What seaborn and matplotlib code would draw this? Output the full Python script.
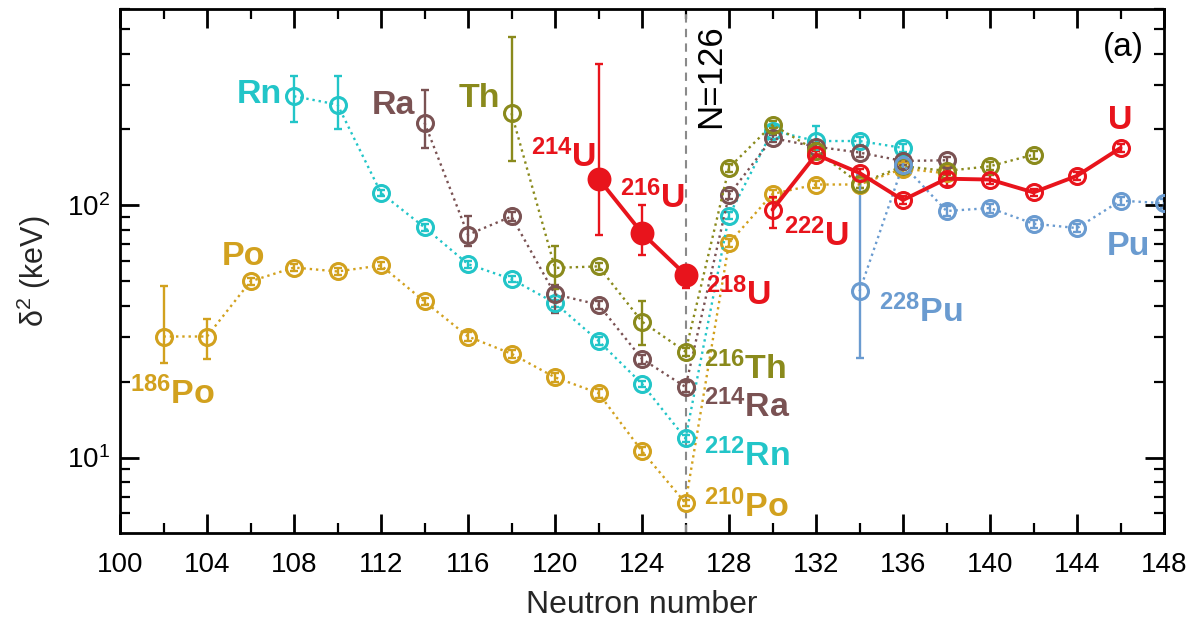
import numpy as np
import pandas as pd
import matplotlib
matplotlib.use("Agg")
import matplotlib.pyplot as plt
import matplotlib.ticker as mticker
import seaborn as sns

# ---------------- data ----------------
po_n = [102, 104, 106, 108, 110, 112, 114, 116, 118, 120, 122, 124, 126, 128, 130, 132, 134, 136, 138]
po_v = [30.2, 30.2, 50.0, 56.7, 54.7, 57.8, 41.6, 30.2, 25.8, 20.8, 18.0, 10.6, 6.6, 70.9, 111, 121, 121, 140, 134]
po_lo = [6.5, 5.6, 1.5, 1.8, 1.8, 1.8, 1.5, 1.2, 1.0, 0.8, 0.7, 0.4, 0.2, 2.5, 4, 4, 4, 5, 5]
po_hi = [17.5, 5.2, 1.5, 1.8, 1.8, 1.8, 1.5, 1.2, 1.0, 0.8, 0.7, 0.4, 0.2, 2.5, 4, 4, 4, 5, 5]

rn_n = [108, 110, 112, 114, 116, 118, 120, 122, 124, 126, 128, 130, 132, 134, 136]
rn_v = [271, 251, 112, 81.8, 58.5, 51.0, 41.0, 29.0, 19.6, 11.9, 91, 198, 180, 180, 169]
rn_lo = [56, 51, 3, 2.5, 1.8, 1.5, 1.3, 1.0, 0.6, 0.4, 3, 8, 10, 6, 6]
rn_hi = [54, 74, 3, 2.5, 1.8, 1.5, 1.3, 1.0, 0.6, 0.4, 3, 8, 26, 6, 6]

ra_n = [114, 116, 118, 120, 122, 124, 126, 128, 130, 132, 134, 136, 138]
ra_v = [213, 76.5, 90.4, 44.4, 40.4, 24.6, 19.05, 110, 185, 171, 162, 150, 151]
ra_lo = [44, 7.7, 4, 6.9, 1.5, 1.0, 0.8, 4, 6, 6, 6, 5, 5]
ra_hi = [75, 14.5, 4, 4.0, 1.5, 1.0, 0.8, 4, 6, 6, 6, 5, 5]

th_n = [118, 120, 122, 124, 126, 128, 130, 132, 134, 136, 138, 140, 142]
th_v = [232, 56.5, 57.3, 34.6, 26.3, 141, 209, 165, 122, 143, 137, 143, 159]
th_lo = [82.5, 10, 2.0, 6.6, 1.0, 5, 7, 6, 5, 5, 5, 5, 6]
th_hi = [234, 12.3, 2.0, 7.0, 1.0, 5, 7, 6, 5, 5, 5, 5, 6]

u1_n = [122, 124, 126]
u1_v = [127.6, 77.7, 53.1]
u1_lo = [51, 14, 6]
u1_hi = [236, 23, 4]

u2_n = [130, 132, 134, 136, 138, 140, 142, 144, 146]
u2_v = [96.2, 159, 134.5, 105, 127.6, 126.6, 112.6, 131, 169]
u2_lo = [15, 6, 5, 4, 8, 5, 4, 5, 6]
u2_hi = [12, 6, 5, 4, 5, 5, 4, 5, 6]

pu_n = [134, 136, 138, 140, 142, 144, 146, 148]
pu_v = [45.6, 145, 95, 97.6, 84.6, 81.3, 104.4, 102]
pu_lo = [20.8, 6, 4, 4, 3, 3, 4, 4]
pu_hi = [86, 6, 4, 4, 3, 3, 4, 4]

C_PO = "#D2A11E"
C_RN = "#22C5C8"
C_RA = "#7A5253"
C_TH = "#8A8A1C"
C_U = "#E8141C"
C_PU = "#6A9BD0"

# ---------------- style ----------------
sns.set_theme(style="ticks")
plt.rcParams["font.family"] = ["Liberation Sans", "DejaVu Sans"]
plt.rcParams["mathtext.fontset"] = "custom"
plt.rcParams["mathtext.rm"] = "Liberation Sans"
plt.rcParams["mathtext.bf"] = "Liberation Sans:bold"
plt.rcParams["mathtext.it"] = "Liberation Sans:italic"

fig = plt.figure(figsize=(11.98, 6.27), dpi=100)
ax = fig.add_axes([120 / 1198, 1 - 533 / 627, 1044 / 1198, 524 / 627])

ax.axvline(126, color="#8a8a8a", ls=(0, (4, 3)), lw=1.5, zorder=1)


def series(n, v, lo, hi, color, ls=":", lw=1.7, filled=False, ms=11.5):
    df = pd.DataFrame({"N": n, "v": v})
    ax.errorbar(n, v, yerr=[lo, hi], fmt="none", ecolor=color, elinewidth=1.7,
                capsize=3, capthick=1.7, zorder=2)
    sns.lineplot(data=df, x="N", y="v", ax=ax, color=color, linestyle=ls, lw=lw,
                 marker="o", markersize=ms, markeredgewidth=2.2,
                 markerfacecolor=(color if filled else "none"),
                 markeredgecolor=color, errorbar=None, sort=False, zorder=3)


series(po_n, po_v, po_lo, po_hi, C_PO)
series(rn_n, rn_v, rn_lo, rn_hi, C_RN)
series(ra_n, ra_v, ra_lo, ra_hi, C_RA)
series(th_n, th_v, th_lo, th_hi, C_TH)
series(pu_n, pu_v, pu_lo, pu_hi, C_PU)
series(u2_n, u2_v, u2_lo, u2_hi, C_U, ls="-", lw=2.8)
series(u1_n, u1_v, u1_lo, u1_hi, C_U, ls="-", lw=2.8, filled=True, ms=15)

ax.set_yscale("log")
ax.set_xlim(100, 148)
ax.set_ylim(5.02, 601)
ax.set_xticks(np.arange(100, 149, 4))
ax.xaxis.set_minor_locator(mticker.MultipleLocator(2))
ax.yaxis.set_minor_formatter(mticker.NullFormatter())

for s in ax.spines.values():
    s.set_linewidth(2)
    s.set_color("black")
ax.tick_params(which="both", direction="in", top=True, right=True, colors="black")
ax.tick_params(which="major", length=14, width=2, labelsize=20)
ax.tick_params(which="minor", length=7, width=1.6)
ax.tick_params(axis="x", which="major", pad=14)
ax.tick_params(axis="y", which="major", pad=7)

ax.set_xlabel("Neutron number", fontsize=23, labelpad=8)
ax.set_ylabel("δ$^{2}$ (keV)", fontsize=22, labelpad=10)

# ---------------- annotations ----------------
lab = dict(fontsize=24.5, fontweight="bold")
ax.text(107.44, 255, "Rn", color=C_RN, ha="right", va="baseline", **lab)
ax.text(113.58, 230, "Ra", color=C_RA, ha="right", va="baseline", **lab)
ax.text(117.49, 246, "Th", color=C_TH, ha="right", va="baseline", **lab)
ax.text(106.67, 58.2, "Po", color=C_PO, ha="right", va="baseline", **lab)
ax.text(100.46, 16.3, r"$^{\mathbf{186}}$Po", color=C_PO, ha="left", va="baseline", **lab)
ax.text(118.9, 142.4, r"$^{\mathbf{214}}$U", color=C_U, ha="left", va="baseline", **lab)
ax.text(123.0, 97.7, r"$^{\mathbf{216}}$U", color=C_U, ha="left", va="baseline", **lab)
ax.text(126.92, 40.4, r"$^{\mathbf{218}}$U", color=C_U, ha="left", va="baseline", **lab)
ax.text(130.53, 68.8, r"$^{\mathbf{222}}$U", color=C_U, ha="left", va="baseline", **lab)
ax.text(134.9, 34.5, r"$^{\mathbf{228}}$Pu", color=C_PU, ha="left", va="baseline", **lab)
ax.text(146.0, 200, "U", color=C_U, ha="center", va="baseline", **lab)
ax.text(146.35, 63.7, "Pu", color=C_PU, ha="center", va="baseline", **lab)
ax.text(126.87, 20.5, r"$^{\mathbf{216}}$Th", color=C_TH, ha="left", va="baseline", **lab)
ax.text(126.87, 14.5, r"$^{\mathbf{214}}$Ra", color=C_RA, ha="left", va="baseline", **lab)
ax.text(126.87, 9.21, r"$^{\mathbf{212}}$Rn", color=C_RN, ha="left", va="baseline", **lab)
ax.text(126.87, 5.83, r"$^{\mathbf{210}}$Po", color=C_PO, ha="left", va="baseline", **lab)

ax.text(127.15, 203, "N=126", rotation=90, ha="center", va="bottom", fontsize=25, color="black")
ax.text(147.08, 422, "(a)", ha="right", va="center", fontsize=24, color="black")

fig.savefig("out.png", dpi=100)
